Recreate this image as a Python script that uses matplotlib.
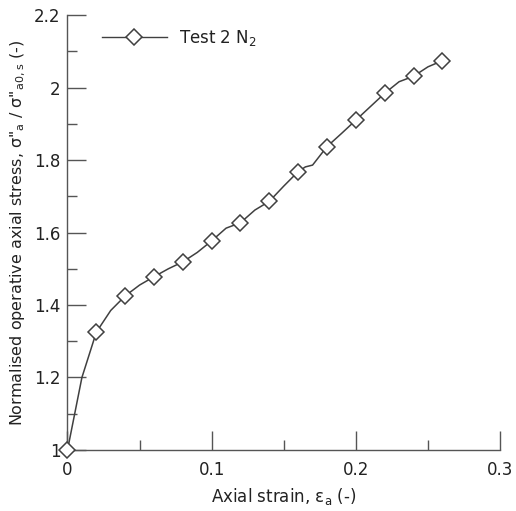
import matplotlib
matplotlib.use("Agg")
import matplotlib.pyplot as plt
from matplotlib.ticker import MultipleLocator, FuncFormatter

# marker points (every 0.02 strain)
strain = [0.0, 0.02, 0.04, 0.06, 0.08, 0.10, 0.12, 0.14, 0.16, 0.18, 0.20, 0.22, 0.24, 0.26]
stress = [1.000, 1.325, 1.425, 1.478, 1.519, 1.577, 1.627, 1.686, 1.768, 1.837, 1.910, 1.984, 2.031, 2.074]

# denser trace drawn as the line
line_strain = [0.0, 0.005, 0.01, 0.02, 0.03, 0.04, 0.05, 0.06, 0.07, 0.08, 0.09, 0.10, 0.11,
               0.12, 0.13, 0.14, 0.15, 0.16, 0.165, 0.17, 0.18, 0.19, 0.20, 0.21, 0.22,
               0.23, 0.24, 0.25, 0.26]
line_stress = [1.000, 1.100, 1.200, 1.325, 1.385, 1.425, 1.455, 1.478, 1.500, 1.519, 1.545, 1.577,
               1.612, 1.627, 1.662, 1.686, 1.728, 1.768, 1.781, 1.786, 1.837, 1.873, 1.910, 1.947,
               1.984, 2.016, 2.031, 2.057, 2.074]

dark = "#404040"
axc = "#555555"
txt = "#222222"

plt.rcParams['font.family'] = ['DejaVu Sans']
plt.rcParams['mathtext.fontset'] = 'dejavusans'

fig = plt.figure(figsize=(5.16, 5.11), dpi=100)
ax = fig.add_axes([0.1308, 0.1194, 0.969 - 0.1308, 0.9706 - 0.1194])

ax.plot(line_strain, line_stress, color=dark, lw=1.1, clip_on=False, zorder=2)
ax.plot(strain, stress, ls='none', marker='D', ms=8.5, mfc='white', mec=dark, mew=1.1,
        clip_on=False, zorder=3)

# legend drawn as a proxy
ax.plot([], [], color=dark, lw=1.0, marker='D', ms=8.5, mfc='white', mec=dark, mew=1.1,
        label="Test 2 N$_\\mathregular{2}$")
leg = ax.legend(loc='upper left', bbox_to_anchor=(0.045, 1.005), frameon=False, fontsize=12,
                handlelength=3.9, handletextpad=0.7)
for t in leg.get_texts():
    t.set_color(txt)

ax.set_xlim(0, 0.3)
ax.set_ylim(1, 2.2)
ax.xaxis.set_major_locator(MultipleLocator(0.1))
ax.xaxis.set_minor_locator(MultipleLocator(0.05))
ax.yaxis.set_major_locator(MultipleLocator(0.2))
ax.yaxis.set_minor_locator(MultipleLocator(0.1))
fmt = FuncFormatter(lambda v, p: "%g" % round(v, 3))
ax.xaxis.set_major_formatter(fmt)
ax.yaxis.set_major_formatter(fmt)

for s in ['top', 'right']:
    ax.spines[s].set_visible(False)
for s in ['left', 'bottom']:
    ax.spines[s].set_color(axc)
    ax.spines[s].set_linewidth(1.0)

ax.tick_params(which='both', direction='in', color=axc, width=1.0, labelsize=12,
               labelcolor=txt)
ax.tick_params(which='major', length=14)
ax.tick_params(which='minor', length=7)
ax.tick_params(axis='y', which='major', pad=5)
ax.tick_params(axis='x', which='major', pad=8)

ax.set_xlabel("Axial strain, \u03b5$_\\mathregular{a}$ (-)", fontsize=12, color=txt,
              labelpad=5)
ax.set_ylabel("Normalised operative axial stress, \u03c3\"$_\\mathregular{a}$ / \u03c3\"$_\\mathregular{a0,s}$ (-)",
              fontsize=11.5, color=txt, labelpad=4)

fig.savefig("out.png", dpi=100)
